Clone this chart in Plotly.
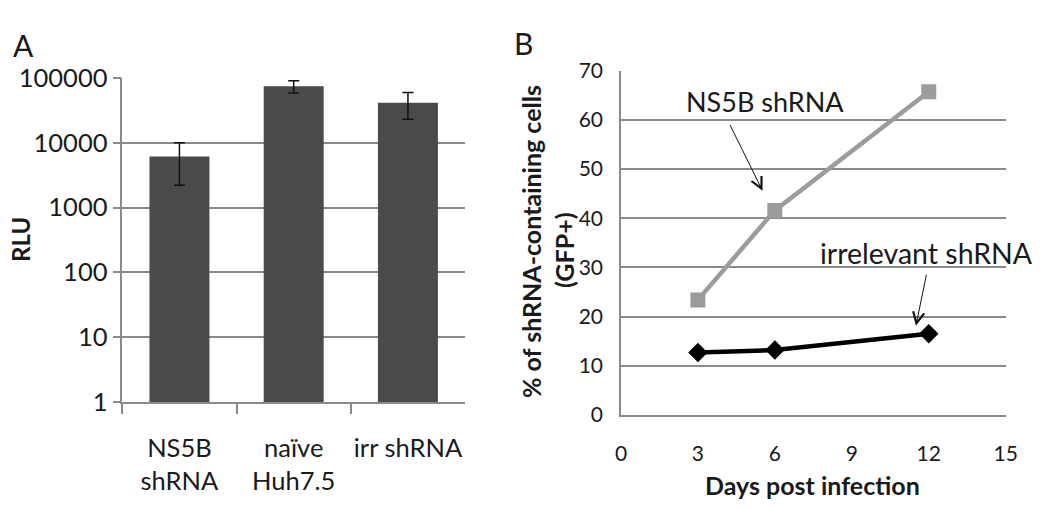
import plotly.graph_objects as go

# ---------------- Data ----------------
# Panel A
categories_a = ["NS5B<br>shRNA", "naïve<br>Huh7.5", "irr shRNA"]
rlu_values = [6100, 74000, 41000]
rlu_errors = [3900, 16000, 18000]
y_tickvals_a = [1, 10, 100, 1000, 10000, 100000]
y_ticktext_a = ["1", "10", "100", "1000", "10000", "100000"]

# Panel B
days = [3, 6, 12]
ns5b_pct = [23.4, 41.6, 65.7]
irr_pct = [12.7, 13.2, 16.5]
x_tickvals_b = [0, 3, 6, 9, 12, 15]
y_tickvals_b = [0, 10, 20, 30, 40, 50, 60, 70]

FONT = "Lato"
TXT = "#1a1a1a"
GRID = "#8a8a8a"

fig = go.Figure()

fig.add_trace(go.Bar(
    x=categories_a, y=rlu_values,
    marker=dict(color="#4a4a4a", line=dict(width=0)),
    width=0.525,
    error_y=dict(type="data", array=rlu_errors, color="#111111", thickness=1.5, width=5.5),
    xaxis="x", yaxis="y", showlegend=False,
))

fig.add_trace(go.Scatter(
    x=days, y=ns5b_pct, mode="lines+markers",
    line=dict(color="#9c9c9c", width=4.5),
    marker=dict(symbol="square", size=15, color="#9c9c9c"),
    xaxis="x2", yaxis="y2", showlegend=False,
))
fig.add_trace(go.Scatter(
    x=days, y=irr_pct, mode="lines+markers",
    line=dict(color="#000000", width=4.5),
    marker=dict(symbol="diamond", size=15, color="#000000"),
    xaxis="x2", yaxis="y2", showlegend=False,
))

tickfont_a = dict(family=FONT, size=25.5, color=TXT)
tickfont_b = dict(family=FONT, size=21, color=TXT)

fig.update_layout(
    width=1050, height=510,
    margin=dict(l=0, r=0, t=0, b=0, autoexpand=False),
    paper_bgcolor="white", plot_bgcolor="white",
    font=dict(family=FONT, color=TXT),
    bargap=0.475,
    xaxis=dict(
        domain=[0.1165, 0.4429], range=[-0.5, 2.4999],
        showline=True, linecolor=GRID, linewidth=1.5,
        ticks="outside", tickson="boundaries", ticklen=10, tickcolor=GRID, tickwidth=1.5,
        tickfont=tickfont_a, tickangle=0, ticklabelstandoff=22, showgrid=False,
        automargin=False, anchor="y",
    ),
    yaxis=dict(
        domain=[0.2112, 0.8476], type="log", range=[0, 5],
        tickvals=y_tickvals_a, ticktext=y_ticktext_a,
        showline=True, linecolor=GRID, linewidth=1.5,
        ticks="outside", ticklen=8, tickcolor=GRID, tickwidth=1.5,
        showgrid=True, gridcolor=GRID, gridwidth=1.5,
        tickfont=tickfont_a, automargin=False, anchor="x",
    ),
    xaxis2=dict(
        domain=[0.5914, 0.9578], range=[0, 15],
        tickvals=x_tickvals_b,
        showline=True, linecolor=GRID, linewidth=1.5,
        ticks="", showgrid=False, zeroline=False,
        tickfont=tickfont_b, tickangle=0, ticklabelstandoff=19, automargin=False, anchor="y2",
    ),
    yaxis2=dict(
        domain=[0.1863, 0.8614], range=[0, 70],
        tickvals=y_tickvals_b,
        showline=True, linecolor=GRID, linewidth=1.5,
        ticks="", showgrid=True, gridcolor=GRID, gridwidth=1.5, zeroline=False,
        tickfont=tickfont_b, ticklabelstandoff=12, automargin=False, anchor="x2",
    ),
)

annotations = [
    # panel labels
    dict(text="A", x=23, y=510 - 45, font=dict(size=30)),
    dict(text="B", x=523, y=510 - 43, font=dict(size=30)),
    # axis titles
    dict(text="<b>RLU</b>", x=20, y=510 - 240, textangle=-90, font=dict(size=24)),
    dict(text="<b>% of shRNA-containing cells</b>", x=531, y=510 - 242, textangle=-90, font=dict(size=25)),
    dict(text="<b>(GFP+)</b>", x=564, y=510 - 250, textangle=-90, font=dict(size=25)),
    dict(text="<b>Days post infection</b>", x=812, y=510 - 485, font=dict(size=25)),
]
for a in annotations:
    a.update(xref="paper", yref="paper", showarrow=False, xanchor="center", yanchor="middle")
    a["x"] = a["x"] / 1050
    a["y"] = a["y"] / 510
    a["font"].update(family=FONT, color=TXT)

# series labels and arrows in data coordinates of panel B
annotations += [
    dict(text="NS5B shRNA", x=5.61, y=63.7, xref="x2", yref="y2", showarrow=False,
         font=dict(family=FONT, size=27, color=TXT)),
    dict(text="irrelevant shRNA", x=11.92, y=32.9, xref="x2", yref="y2", showarrow=False,
         font=dict(family=FONT, size=28.5, color=TXT)),
    dict(text="", x=5.52, y=45.6, ax=4.22, ay=59.3, xref="x2", yref="y2", axref="x2", ayref="y2",
         showarrow=True, arrowhead=5, arrowsize=2.2, arrowwidth=1, arrowcolor="#111111"),
    dict(text="", x=11.5, y=18.15, ax=11.92, ay=28.8, xref="x2", yref="y2", axref="x2", ayref="y2",
         showarrow=True, arrowhead=5, arrowsize=2.2, arrowwidth=1, arrowcolor="#111111"),
]
fig.update_layout(annotations=annotations)

fig.write_html("out.html", config={"displayModeBar": False},
               post_script="document.body.style.margin='0';")
